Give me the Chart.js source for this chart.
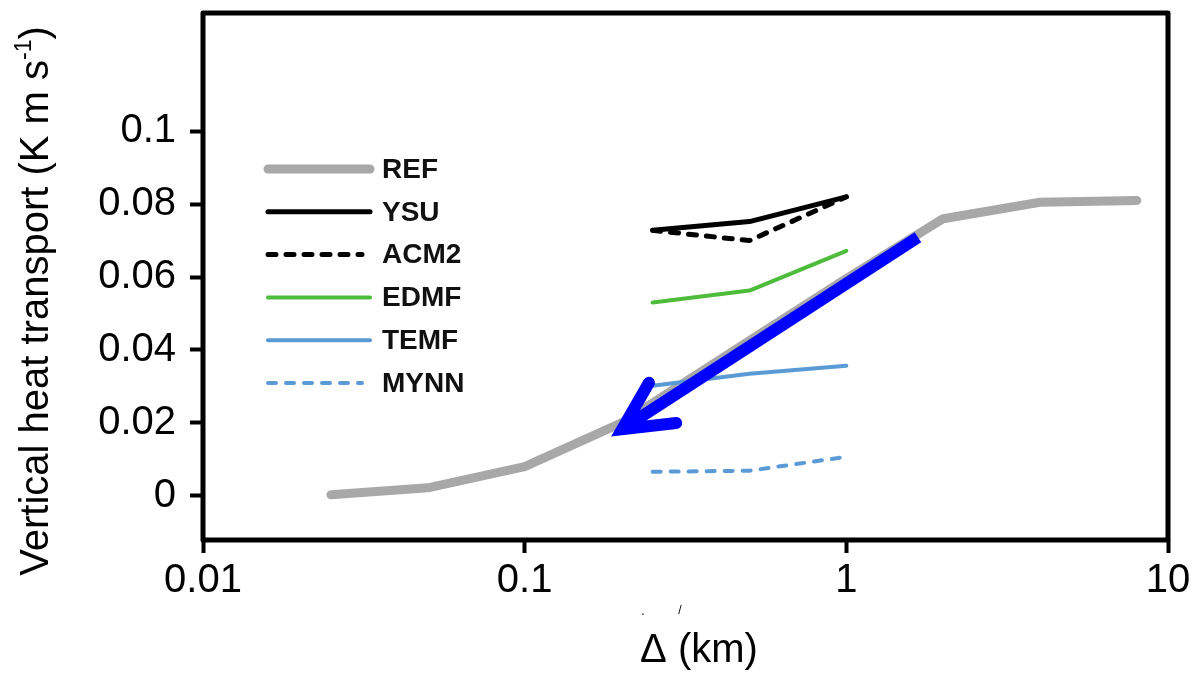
<!DOCTYPE html>
<html lang="en">
<head>
  <meta charset="UTF-8">
  <title>Vertical heat transport vs grid spacing</title>
  <style>
    html, body { margin: 0; padding: 0; background: #fff; }
    .wrap { width: 1195px; height: 673px; }
  </style>
</head>
<body>
  <div class="wrap"><canvas id="heatChart" width="1195" height="673"></canvas></div>

  <script src="https://cdn.jsdelivr.net/npm/chart.js"></script>
  <script>
    // grid spacing (km)
    const refDx = [0.025, 0.05, 0.1, 0.2, 0.5, 1, 2, 4, 8];
    const pblDx = [0.25, 0.5, 1];

    // vertical heat transport (K m s-1)
    const refVals  = [0.0003, 0.0022, 0.0080, 0.0200, 0.0426, 0.0596, 0.0760, 0.0805, 0.0810];
    const ysuVals  = [0.0728, 0.0752, 0.0820];
    const acm2Vals = [0.0728, 0.0700, 0.0820];
    const edmfVals = [0.0530, 0.0563, 0.0672];
    const temfVals = [0.0302, 0.0335, 0.0357];
    const mynnVals = [0.0066, 0.0069, 0.0107];

    // blue arrow drawn on the figure
    const arrowShaftX = [1.67, 0.205];
    const arrowShaftY = [0.0709, 0.0188];
    const arrowHeadX  = [0.2434, 0.201, 0.2958];
    const arrowHeadY  = [0.0310, 0.0183, 0.0200];

    const xTicks = [0.01, 0.1, 1, 10];
    const xTickLabels = ['0.01', '0.1', '1', '10'];
    const yTicks = [0, 0.02, 0.04, 0.06, 0.08, 0.1];
    const yTickLabels = ['0', '0.02', '0.04', '0.06', '0.08', '0.1'];

    const seriesNames = ['REF', 'YSU', 'ACM2', 'EDMF', 'TEMF', 'MYNN'];

    function pts(xs, ys) {
      return xs.map((x, i) => ({ x: x, y: ys[i] }));
    }

    const FONT = '"Liberation Sans", Arial, sans-serif';

    const datasets = [
      { label: 'arrowHead', data: pts(arrowHeadX, arrowHeadY), borderColor: '#0000ff', borderWidth: 12,
        borderCapStyle: 'round', borderJoinStyle: 'miter', order: 0 },
      { label: 'arrowShaft', data: pts(arrowShaftX, arrowShaftY), borderColor: '#0000ff', borderWidth: 12,
        borderCapStyle: 'butt', order: 1 },
      { label: 'MYNN', data: pts(pblDx, mynnVals), borderColor: '#5b9bd5', borderWidth: 4,
        borderDash: [8, 10], borderCapStyle: 'round', order: 2 },
      { label: 'TEMF', data: pts(pblDx, temfVals), borderColor: '#5b9bd5', borderWidth: 4,
        borderCapStyle: 'round', order: 3 },
      { label: 'EDMF', data: pts(pblDx, edmfVals), borderColor: '#4cbc3a', borderWidth: 4,
        borderCapStyle: 'round', order: 4 },
      { label: 'ACM2', data: pts(pblDx, acm2Vals), borderColor: '#000', borderWidth: 5,
        borderDash: [8, 10], borderCapStyle: 'round', order: 5 },
      { label: 'YSU', data: pts(pblDx, ysuVals), borderColor: '#000', borderWidth: 5,
        borderCapStyle: 'round', order: 6 },
      { label: 'REF', data: pts(refDx, refVals), borderColor: '#a8a8a8', borderWidth: 9,
        borderCapStyle: 'round', order: 7 }
    ];
    datasets.forEach(d => {
      d.pointRadius = 0;
      d.fill = false;
      d.tension = 0;
      d.borderJoinStyle = d.borderJoinStyle || 'round';
    });

    // frame, legend and axis titles
    const decorPlugin = {
      id: 'decor',
      afterDraw(chart) {
        const ctx = chart.ctx;
        const a = chart.chartArea;
        ctx.save();

        // black frame
        ctx.strokeStyle = '#000';
        ctx.lineWidth = 5;
        ctx.lineJoin = 'round';
        ctx.strokeRect(a.left, a.top, a.right - a.left, a.bottom - a.top);

        // legend
        const lx0 = 268, lx1 = 370, tx = 382, y0 = 169, dy = 42.8;
        seriesNames.forEach((name, i) => {
          const ds = chart.data.datasets.find(d => d.label === name);
          const y = y0 + i * dy;
          ctx.beginPath();
          ctx.strokeStyle = ds.borderColor;
          ctx.lineWidth = ds.borderWidth;
          ctx.lineCap = 'round';
          ctx.setLineDash(ds.borderDash || []);
          ctx.moveTo(lx0, y);
          ctx.lineTo(ds.borderDash ? lx1 - 8 : lx1, y);
          ctx.stroke();
          ctx.setLineDash([]);
          ctx.fillStyle = '#111';
          ctx.font = 'bold 28px ' + FONT;
          ctx.textAlign = 'left';
          ctx.textBaseline = 'middle';
          ctx.fillText(name, tx, y + 1);
        });

        // x title
        ctx.fillStyle = '#000';
        ctx.font = '40px ' + FONT;
        ctx.textAlign = 'center';
        ctx.textBaseline = 'alphabetic';
        ctx.fillText('\u0394 (km)', 699, 662);

        // stray marks under the axis
        ctx.font = '12px ' + FONT;
        ctx.fillText('.', 643, 615);
        ctx.fillText('/', 680, 614);

        // y title with superscript
        ctx.translate(48, 301);
        ctx.rotate(-Math.PI / 2);
        const main = 'Vertical heat transport (K m s';
        const sup = '-1';
        const close = ')';
        ctx.font = '40px ' + FONT;
        const wMain = ctx.measureText(main).width;
        const wClose = ctx.measureText(close).width;
        ctx.font = '23px ' + FONT;
        const wSup = ctx.measureText(sup).width;
        let x = -(wMain + wSup + wClose) / 2;
        ctx.textAlign = 'left';
        ctx.font = '40px ' + FONT;
        ctx.fillText(main, x, 0);
        x += wMain;
        ctx.font = '23px ' + FONT;
        ctx.fillText(sup, x, -17);
        x += wSup;
        ctx.font = '40px ' + FONT;
        ctx.fillText(close, x, 0);

        ctx.restore();
      }
    };

    const chart = new Chart(document.getElementById('heatChart').getContext('2d'), {
      type: 'line',
      data: { datasets: datasets },
      plugins: [decorPlugin],
      options: {
        responsive: false,
        animation: false,
        layout: { padding: { left: 0, top: 13, right: 27, bottom: 0 } },
        plugins: {
          legend: { display: false },
          tooltip: { enabled: false }
        },
        scales: {
          x: {
            type: 'logarithmic',
            min: 0.01,
            max: 10,
            afterBuildTicks: s => { s.ticks = xTicks.map(v => ({ value: v })); },
            afterFit: s => { s.height = 133; s.paddingLeft = 0; s.paddingRight = 0; },
            border: { display: false },
            grid: { drawOnChartArea: false, drawTicks: true, tickLength: 13, tickWidth: 4, tickColor: '#000' },
            ticks: {
              autoSkip: false,
              maxRotation: 0,
              padding: 4,
              color: '#000',
              font: { family: FONT, size: 40 },
              callback: (v, i) => xTickLabels[i]
            }
          },
          y: {
            min: -0.0121,
            max: 0.1324,
            afterBuildTicks: s => { s.ticks = yTicks.map(v => ({ value: v })); },
            afterFit: s => { s.width = 203; s.paddingTop = 0; s.paddingBottom = 0; },
            border: { display: false },
            grid: { drawOnChartArea: false, drawTicks: true, tickLength: 13, tickWidth: 4, tickColor: '#000' },
            ticks: {
              padding: 14,
              color: '#000',
              font: { family: FONT, size: 40 },
              callback: (v, i) => yTickLabels[i]
            }
          }
        }
      }
    });
  </script>
</body>
</html>
